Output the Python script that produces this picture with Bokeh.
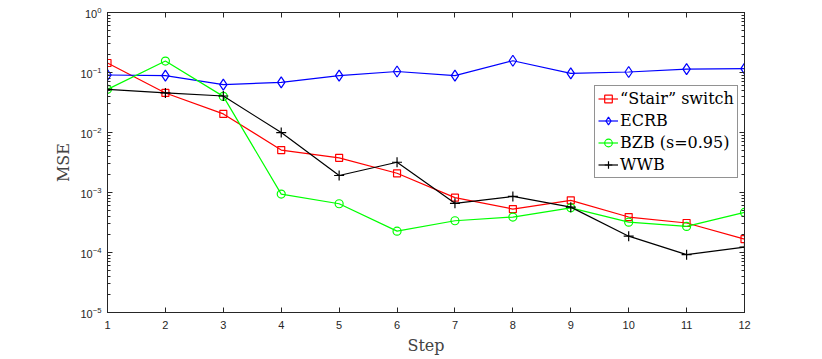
from bokeh.plotting import figure
from bokeh.models import LinearAxis, LogAxis, FixedTicker, LogTicker, Legend
from bokeh.embed import file_html
from bokeh.resources import INLINE

steps = list(range(1, 13))
stair = [0.144, 0.0456, 0.0204, 0.0051, 0.00378, 0.00209, 8.2e-4, 5.3e-4, 7.4e-4, 3.9e-4, 3.1e-4, 1.67e-4]
ecrb = [0.0908, 0.0885, 0.0627, 0.0684, 0.0885, 0.104, 0.0885, 0.157, 0.0966, 0.102, 0.114, 0.116]
bzb = [0.0524, 0.155, 0.040, 9.4e-4, 6.5e-4, 2.27e-4, 3.38e-4, 3.9e-4, 5.56e-4, 3.2e-4, 2.72e-4, 4.65e-4]
wwb = [0.0524, 0.0456, 0.0406, 0.00996, 0.00192, 0.00319, 6.6e-4, 8.6e-4, 5.7e-4, 1.87e-4, 9.2e-5, 1.23e-4]

y_ticks = [1e-5, 1e-4, 1e-3, 1e-2, 1e-1, 1.0]
x_ticks = steps

TICK_FONT = "Liberation Sans"
SERIF = "DejaVu Serif"

p = figure(width=814, height=359, output_backend="svg", toolbar_location=None,
           x_axis_type="linear", y_axis_type="log",
           x_range=(1, 12), y_range=(1e-5, 1.0),
           min_border_left=107, min_border_right=70, min_border_top=12, min_border_bottom=47)
p.xgrid.grid_line_color = None
p.ygrid.grid_line_color = None
p.outline_line_color = "#262626"
p.outline_line_width = 1
p.background_fill_color = "white"

def style_axis(ax):
    ax.major_tick_in = 5
    ax.major_tick_out = 0
    ax.minor_tick_in = 3
    ax.minor_tick_out = 0
    ax.axis_line_color = "#262626"
    ax.major_tick_line_color = "#262626"
    ax.minor_tick_line_color = "#262626"
    ax.major_label_text_font = TICK_FONT
    ax.major_label_text_font_size = "11px"
    ax.major_label_text_color = "#262626"

xa = p.xaxis[0]
xa.ticker = FixedTicker(ticks=x_ticks)
style_axis(xa)
xa.minor_tick_line_color = None
xa.axis_label = "Step"
xa.axis_label_text_font = SERIF
xa.axis_label_text_font_style = "normal"
xa.axis_label_text_font_size = "16px"
xa.axis_label_standoff = 4
xa.major_label_standoff = 8

ya = p.yaxis[0]
ya.ticker = LogTicker(num_minor_ticks=10)
style_axis(ya)
ya.axis_label = "MSE"
ya.axis_label_text_font = SERIF
ya.axis_label_text_font_style = "normal"
ya.axis_label_text_font_size = "16px"
ya.axis_label_standoff = 4
ya.major_label_standoff = 6

top = LinearAxis(ticker=FixedTicker(ticks=x_ticks))
style_axis(top)
top.minor_tick_line_color = None
top.major_label_overrides = {t: "" for t in x_ticks}
p.add_layout(top, "above")

right = LogAxis(ticker=LogTicker(num_minor_ticks=10))
style_axis(right)
right.major_label_overrides = {t: "" for t in y_ticks}
p.add_layout(right, "right")

series = [
    ("\u201cStair\u201d switch", stair, "#ff0000", "square", 7),
    ("ECRB", ecrb, "#0000ff", "diamond", 11),
    ("BZB (s=0.95)", bzb, "#00ff00", "circle", 8),
    ("WWB", wwb, "#000000", "cross", 10),
]
items = []
for name, vals, col, mk, sz in series:
    l = p.line(steps, vals, line_color=col, line_width=1.2)
    s = p.scatter(steps, vals, marker=mk, size=sz, line_color=col, fill_color=None, line_width=1.2)
    items.append((name, [l, s]))

legend = Legend(items=items, location=(487, 134))
legend.label_text_font = SERIF
legend.label_text_font_size = "16px"
legend.label_text_color = "#000000"
legend.border_line_color = "#262626"
legend.border_line_width = 1
legend.background_fill_color = "white"
legend.background_fill_alpha = 1
legend.glyph_width = 20
legend.glyph_height = 19
legend.label_standoff = 2
legend.spacing = 3
legend.padding = 3
legend.margin = 0
legend.label_height = 19
p.add_layout(legend, "center")

open("out.html", "w").write(file_html(p, INLINE))
